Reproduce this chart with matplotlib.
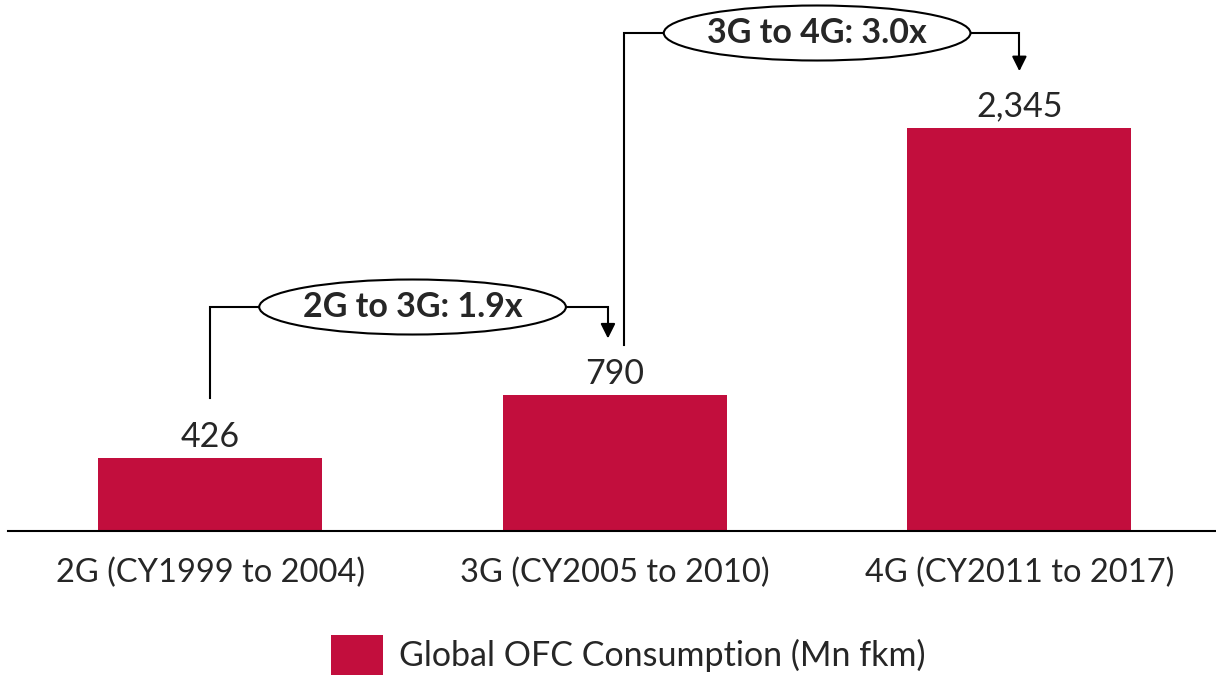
import matplotlib
matplotlib.use("Agg")
import matplotlib.pyplot as plt
from matplotlib.patches import Ellipse, Patch

# Global OFC consumption by generation
categories = ['2G (CY1999 to 2004)', '3G (CY2005 to 2010)', '4G (CY2011 to 2017)']
values = [426, 790, 2345]
growth_labels = ['2G to 3G: 1.9x', '3G to 4G: 3.0x']
legend_label = 'Global OFC Consumption (Mn fkm)'

bar_color = '#C20E3D'
text_color = '#262626'
fs = 24.5

plt.rcParams['font.family'] = ['Lato', 'DejaVu Sans']

fig = plt.figure(figsize=(12.16, 6.77), dpi=100)
ax = fig.add_axes([8 / 1216, 146 / 677, 1208 / 1216, 531 / 677])

x = list(range(len(values)))
ax.bar(x, values, width=0.554, color=bar_color, zorder=2)

ax.set_xlim(-0.5, 2.486)
ax.set_ylim(0, 3089)

for i, v in enumerate(values):
    ax.text(i, v + 30, f'{v:,}', ha='center', va='bottom', fontsize=fs, color=text_color)

ax.set_xticks(x)
ax.set_xticklabels(categories, fontsize=23.5, color=text_color)
ax.tick_params(axis='x', length=0, pad=19)
ax.set_yticks([])
for side in ['top', 'right', 'left']:
    ax.spines[side].set_visible(False)
ax.spines['bottom'].set_linewidth(1.5)
ax.spines['bottom'].set_color('black')

# growth brackets between neighbouring bars
levels = [values[1] + 513, values[2] + 552]
start_off = [350, 290]
x_start = [0, 1.022]
x_end = [0.983, 2]
for i, label in enumerate(growth_labels):
    lvl = levels[i]
    y0 = values[i] + start_off[i]
    y1 = values[i + 1] + 330
    ax.plot([x_start[i], x_start[i], x_end[i], x_end[i]], [y0, lvl, lvl, y1 + 60],
            color='black', lw=1.5, solid_joinstyle='miter', zorder=3)
    ax.annotate('', xy=(x_end[i], y1), xytext=(x_end[i], y1 + 80),
                arrowprops=dict(arrowstyle='-|>', color='black', lw=1.5,
                                mutation_scale=22, shrinkA=0, shrinkB=0), zorder=3)
    cx = i + 0.5
    ax.add_patch(Ellipse((cx, lvl), 0.758, 320, facecolor='white', edgecolor='black',
                         lw=1.5, zorder=4))
    ax.text(cx, lvl, label, ha='center', va='center', fontsize=fs, fontweight='bold',
            color=text_color, zorder=5)

handle = Patch(facecolor=bar_color, edgecolor='none')
fig.legend([handle], [legend_label], loc='center', bbox_to_anchor=(628 / 1216, 1 - 655 / 677),
           frameon=False, fontsize=fs, handlelength=1.55, handleheight=1.4, handletextpad=0.45,
           labelcolor=text_color)

fig.savefig('out.png', dpi=100, facecolor='white')
